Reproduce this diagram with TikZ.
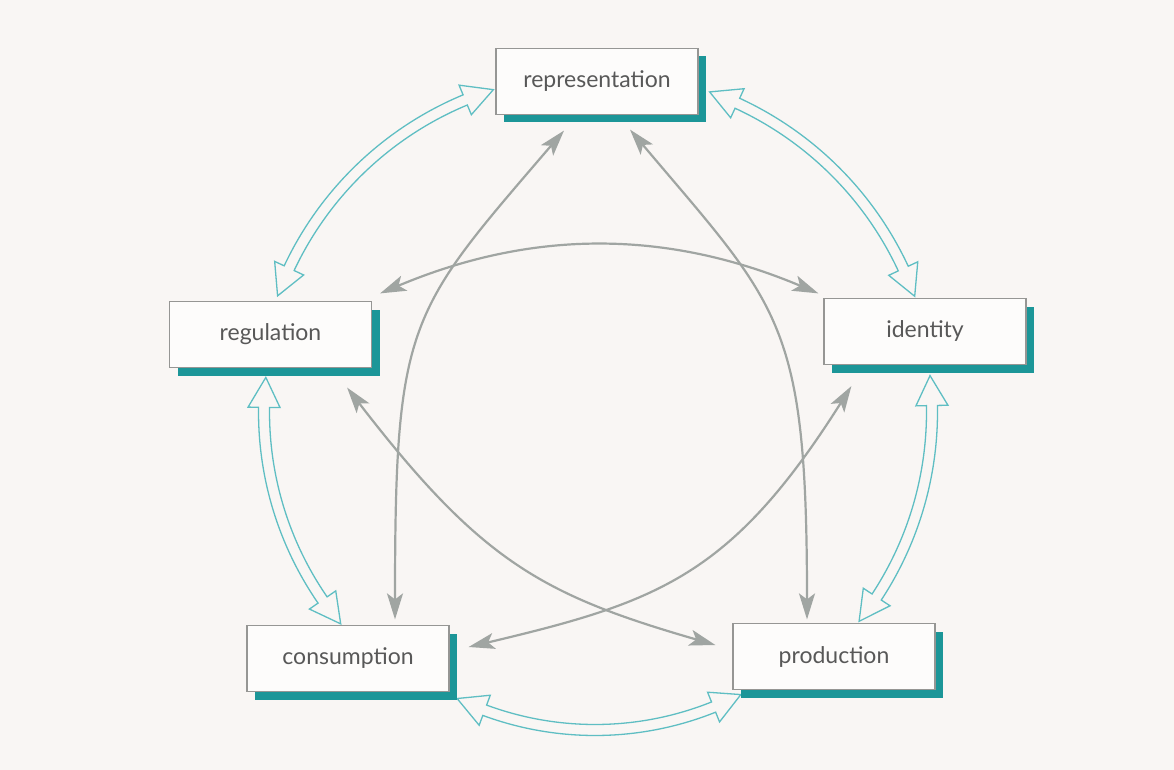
\documentclass[tikz,border=0pt]{standalone}
\usepackage{fontspec}
\setmainfont{Lato}
\usetikzlibrary{arrows.meta,calc,shadows}
\definecolor{bg}{RGB}{249,246,244}
\definecolor{boxfill}{RGB}{253,252,251}
\definecolor{boxline}{RGB}{150,150,148}
\definecolor{shadowteal}{RGB}{28,150,152}
\definecolor{hollowteal}{RGB}{95,190,195}
\definecolor{arrowgray}{RGB}{160,165,162}
\definecolor{textgray}{RGB}{88,88,88}
\newcommand\hollowlink[3]{%
  \pgfmathsetmacro\hlDh{30/#3*180/pi}%
  \pgfmathsetmacro\hlS{#1+\hlDh}%
  \pgfmathsetmacro\hlE{#2-\hlDh}%
  \pgfmathsetmacro\hlRo{#3+5.5}%
  \pgfmathsetmacro\hlRi{#3-5.5}%
  \pgfmathsetmacro\hlHo{#3+16}%
  \pgfmathsetmacro\hlHi{#3-16}%
  \path[hollow] (#1:#3) -- (\hlS:\hlHo) -- (\hlS:\hlRo)
    arc[start angle=\hlS, end angle=\hlE, radius=\hlRo]
    -- (\hlE:\hlHo) -- (#2:#3) -- (\hlE:\hlHi) -- (\hlE:\hlRi)
    arc[start angle=\hlE, end angle=\hlS, radius=\hlRi]
    -- (\hlS:\hlHi) -- cycle;
}
\begin{document}
\begin{tikzpicture}[x=1pt,y=-1pt,
  conceptbox/.style={draw=boxline, line width=1.2pt, fill=boxfill,
    minimum width=202pt, minimum height=66pt, inner sep=0pt,
    text=textgray, font=\fontsize{23}{26}\selectfont,
    drop shadow={shadow xshift=8pt, shadow yshift=-8pt, fill=shadowteal, opacity=1}},
  link/.style={draw=arrowgray, line width=2.2pt,
    {Stealth[length=26pt,width=16pt,inset=6pt]}-{Stealth[length=26pt,width=16pt,inset=6pt]}},
  hollow/.style={draw=hollowteal, line width=1.3pt, fill=bg, line join=miter}
]
\useasboundingbox (0,0) rectangle (1174,770);
\fill[bg] (0,0) rectangle (1174,770);
\coordinate (hub) at (595,412);

% hollow connectors
\begin{scope}[shift={(hub)}]
  \hollowlink{200.1}{252.5}{338}
  \hollowlink{-70.3}{-19.9}{340}
  \hollowlink{-6.2}{38.4}{337}
  \hollowlink{62.7}{115.7}{318}
  \hollowlink{140.2}{186}{331}
\end{scope}

% boxes
\node[conceptbox] (rep) at (597,81.5) {representation};
\node[conceptbox] (reg) at (270.5,334.5) {regulation};
\node[conceptbox] (ide) at (925,331.5) {identity};
\node[conceptbox] (con) at (348,658.5) {consumption};
\node[conceptbox] (pro) at (834,656.5) {production};

% gray connectors
\draw[link] ($(rep.south)+(-33,15.5)$) .. controls +(-156,182) and +(0,-300) .. ($(con.north)+(47,-5.5)$);
\draw[link] ($(rep.south)+(33,14.5)$) .. controls +(150,178) and +(0,-300) .. ($(pro.north)+(-27,-3.5)$);
\draw[link] ($(reg.north east)+(8,-7.5)$) .. controls +(152,-64) and +(-152,-64) .. ($(ide.north west)+(-5,-4.5)$);
\draw[link] ($(reg.south east)+(-25,19.5)$) .. controls +(134,174) and +(-173,-50) .. ($(pro.west)+(-17,-11.5)$);
\draw[link] ($(ide.south west)+(28,21)$) .. controls +(-120,190) and +(190,-45) .. ($(con.east)+(19,-11.5)$);
\end{tikzpicture}
\end{document}
